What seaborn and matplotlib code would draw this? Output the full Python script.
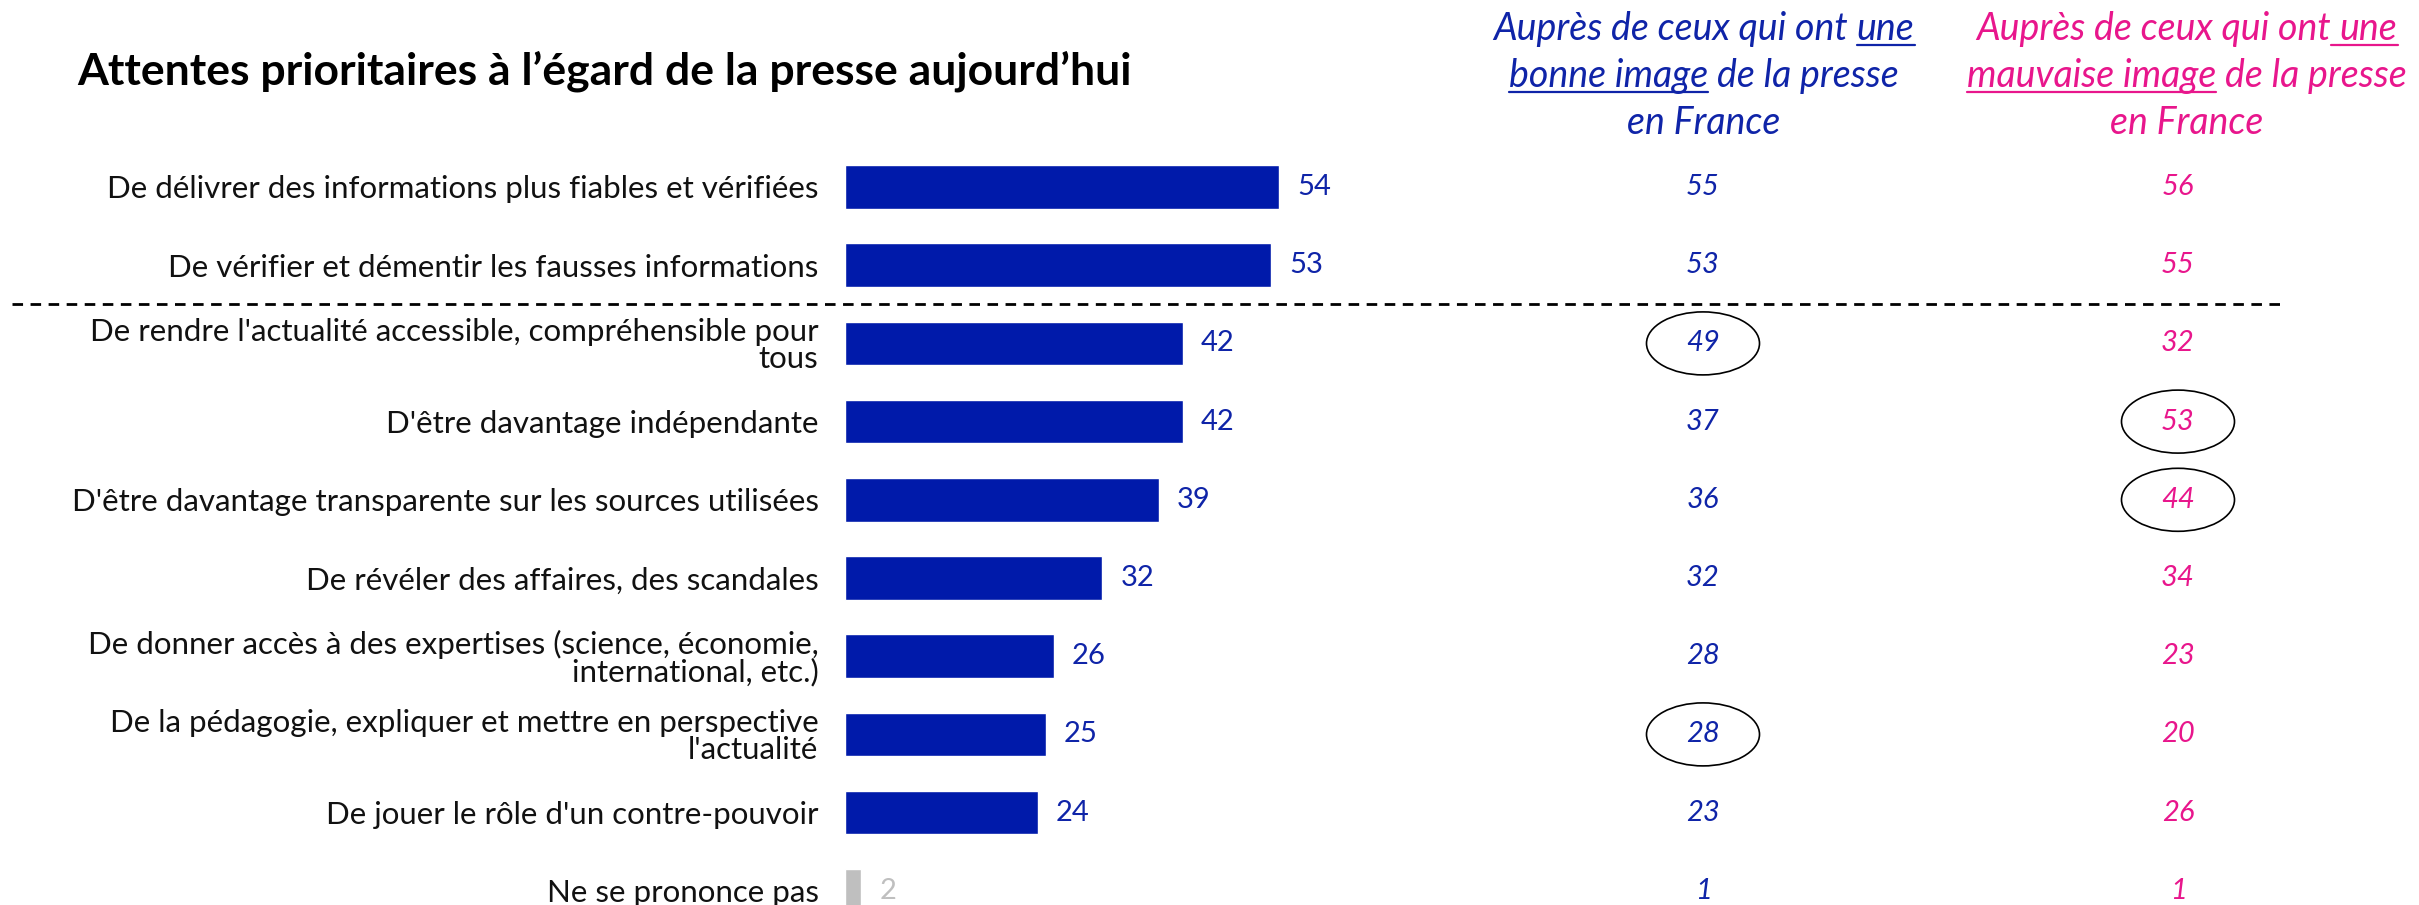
import matplotlib
matplotlib.use("Agg")
import matplotlib.pyplot as plt
import matplotlib.transforms as mtransforms
from matplotlib.patches import Ellipse
from matplotlib.lines import Line2D
from matplotlib.font_manager import FontProperties
import seaborn as sns
import pandas as pd

# ---------------- data ----------------
categories = [
    "De délivrer des informations plus fiables et vérifiées",
    "De vérifier et démentir les fausses informations",
    "De rendre l'actualité accessible, compréhensible pour\ntous",
    "D'être davantage indépendante",
    "D'être davantage transparente sur les sources utilisées",
    "De révéler des affaires, des scandales",
    "De donner accès à des expertises (science, économie,\ninternational, etc.)",
    "De la pédagogie, expliquer et mettre en perspective\nl'actualité",
    "De jouer le rôle d'un contre-pouvoir",
    "Ne se prononce pas",
]
total = [54, 53, 42, 42, 39, 32, 26, 25, 24, 2]
bonne_image = [55, 53, 49, 37, 36, 32, 28, 28, 23, 1]
mauvaise_image = [56, 55, 32, 53, 44, 34, 23, 20, 26, 1]
circled_bonne = [2, 7]
circled_mauvaise = [3, 4]

title = "Attentes prioritaires à l\u2019égard de la presse aujourd\u2019hui"
header_bonne = [[("Auprès de ceux qui ont", False), (" ", False), ("une", True)],
                [("bonne image", True), (" ", False), ("de la presse", False)],
                [("en France", False)]]
header_mauvaise = [[("Auprès de ceux qui ont", False), (" ", True), ("une", True)],
                   [("mauvaise image", True), (" ", False), ("de la presse", False)],
                   [("en France", False)]]

# ---------------- style ----------------
BAR_BLUE = "#001AAA"
NUM_BLUE = "#0F24A8"
PINK = "#E8168C"
GREY = "#BFBFBF"
FONT = "Lato"

W, H = 2419, 905
fig = plt.figure(figsize=(W / 100, H / 100), dpi=100)
sns.set_style("white")
plt.rcParams["font.family"] = [FONT, "DejaVu Sans"]

# axes: rows centered at y=187 + i*78.2 px from top
row0, step = 187.0, 78.2
top_px = row0 - step / 2
bot_px = row0 + 9 * step + step / 2
x0_px = 845
px_per_unit = 8.04
xmax = 60
ax = fig.add_axes([x0_px / W, (H - bot_px) / H, xmax * px_per_unit / W, (bot_px - top_px) / H])

colors = [BAR_BLUE] * (len(categories) - 1) + [GREY]
df = pd.DataFrame({"cat": categories, "val": total})
sns.barplot(data=df, y="cat", x="val", hue="cat", palette=colors, legend=False,
            orient="h", width=0.56, ax=ax, saturation=1)
ax.set_xlim(0, xmax)
ax.set_ylim(len(categories) - 0.5, -0.5)
ax.set_xlabel("")
ax.set_ylabel("")
ax.set_xticks([])
for s in ax.spines.values():
    s.set_visible(False)
ax.tick_params(axis="y", length=0, pad=19, labelsize=22.5, labelcolor="#111111")
for lbl in ax.get_yticklabels():
    lbl.set_linespacing(0.95)

# value labels on bars
for i, c in enumerate(ax.containers):
    col = GREY if i == len(ax.containers) - 1 else NUM_BLUE
    ax.bar_label(c, fmt="%d", padding=13, fontsize=21, color=col)

# side columns
blend = mtransforms.blended_transform_factory(fig.transFigure, ax.transData)
col_x = [1703 / W, 2178 / W]
for cx, vals, color, circled in [(col_x[0], bonne_image, NUM_BLUE, circled_bonne),
                                 (col_x[1], mauvaise_image, PINK, circled_mauvaise)]:
    for i, v in enumerate(vals):
        ax.text(cx, i, str(v), transform=blend, ha="center", va="center",
                fontsize=21, style="italic", color=color, clip_on=False)
    for i in circled:
        e = Ellipse((cx, i), width=113 / W, height=63 / step, transform=blend,
                    fill=False, edgecolor="black", lw=1.2, clip_on=False)
        ax.add_patch(e)

# dashed separator between rows 2 and 3
ax.add_line(Line2D([12 / W, 2283 / W], [1.5, 1.5], transform=blend, color="black",
                   lw=2, dashes=(3.8, 2.7), clip_on=False))

# title
fig.text(77 / W, 1 - 71 / H, title, fontsize=32, fontweight="bold", ha="left",
         va="center", color="black")

# headers with partial underlines
fig.canvas.draw()
renderer = fig.canvas.get_renderer()
hfp = FontProperties(family=FONT, style="italic", size=27)


def text_w(s):
    t = fig.text(0, 0, s, fontproperties=hfp)
    w = t.get_window_extent(renderer).width
    t.remove()
    return w


space_w = text_w("a a") - text_w("aa")


def seg_w(s):
    return space_w if s == " " else text_w(s)


baselines = [40, 87, 134]
for cx, lines, color in [(1704, header_bonne, NUM_BLUE), (2187, header_mauvaise, PINK)]:
    for (segs, base) in zip(lines, baselines):
        widths = [seg_w(s) for s, _ in segs]
        x = cx - sum(widths) / 2
        y = 1 - base / H
        for (s, ul), w in zip(segs, widths):
            if s != " ":
                fig.text(x / W, y, s, fontproperties=hfp, color=color,
                         ha="left", va="baseline")
            if ul:
                uy = 1 - (base + 5) / H
                fig.add_artist(Line2D([x / W, (x + w) / W], [uy, uy],
                                      transform=fig.transFigure, color=color, lw=1.6))
            x += w

fig.savefig("out.png", dpi=100, facecolor="white")
